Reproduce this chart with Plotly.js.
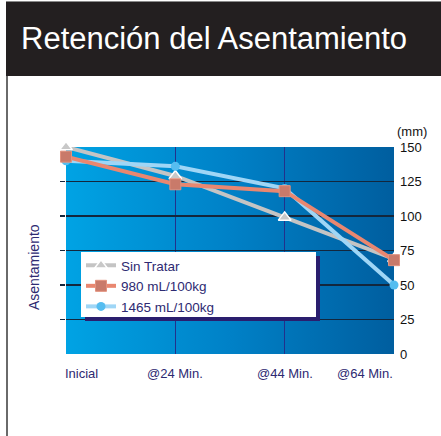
<!DOCTYPE html>
<html>
<head>
<meta charset="utf-8">
<script src="https://cdn.plot.ly/plotly-3.0.1.min.js"></script>
<style>html,body{margin:0;padding:0;background:#fff;}#chart{width:441px;height:436px;}</style>
</head>
<body>
<div id="chart"></div>
<script>
// ---- data ----
const categories = ["Inicial", "@24 Min.", "@44 Min.", "@64 Min."];
const catPos = [0, 1, 2, 3];
const sinTratar = [150, 129, 99, 69];
const dosis980 = [143, 123, 118, 68];
const dosis1465 = [140, 136, 120, 50];
const seriesNames = ["Sin Tratar", "980 mL/100kg", "1465 mL/100kg"];
const yTicks = [0, 25, 50, 75, 100, 125, 150];
const gridTicks = [25, 50, 75, 100, 125];

// ---- geometry (pixels) ----
const W = 441, H = 436;
const L = 66, R = 394, T = 147, B = 354;
const pw = R - L, ph = B - T;
const px = x => (x - L) / pw;
const py = y => (B - y) / ph;

// gradient background image
const cv = document.createElement('canvas');
cv.width = pw; cv.height = ph;
const ctx = cv.getContext('2d');
const g = ctx.createLinearGradient(0, 0, pw, 0);
g.addColorStop(0, '#00a3e4');
g.addColorStop(0.5, '#0081c7');
g.addColorStop(1, '#005e9f');
ctx.fillStyle = g;
ctx.fillRect(0, 0, pw, ph);
const bgURL = cv.toDataURL('image/png');

const navy = '#2e2a72';
const font = 'Arial, Liberation Sans, sans-serif';

const traces = [
  {
    x: catPos, y: sinTratar, name: seriesNames[0], type: 'scatter', mode: 'lines+markers',
    line: {color: '#c4c4c4', width: 4},
    marker: {symbol: 'triangle-up', size: 11, color: '#c8c8c8', line: {color: '#ffffff', width: 1.5}},
    cliponaxis: false, legendrank: 1
  },
  {
    x: catPos, y: dosis1465, name: seriesNames[2], type: 'scatter', mode: 'lines+markers',
    line: {color: '#9fd6f6', width: 4},
    marker: {symbol: 'circle', size: 9, color: '#55bdf0'},
    cliponaxis: false, legendrank: 3
  },
  {
    x: catPos, y: dosis980, name: seriesNames[1], type: 'scatter', mode: 'lines+markers',
    line: {color: '#e98770', width: 4},
    marker: {symbol: 'square', size: 11, color: '#c97a6a', line: {color: '#e3927e', width: 1}},
    cliponaxis: false, legendrank: 2
  },
  // carrier for the right-hand value axis (no visible mark)
  {
    x: [catPos[0]], y: [null], yaxis: 'y2', type: 'scatter', mode: 'lines',
    showlegend: false, hoverinfo: 'skip'
  }
];

const annotations = categories.map((c, i) => ({
  x: catPos[i], xref: 'x', y: py(373), yref: 'paper',
  text: c, showarrow: false,
  xanchor: i === 0 ? 'left' : (i === categories.length - 1 ? 'right' : 'center'),
  yanchor: 'middle',
  xshift: i === 0 ? -3 : (i === categories.length - 1 ? 1 : 0),
  font: {family: font, size: 13, color: navy}
}));
annotations.push({
  x: px(412), xref: 'paper', y: py(131), yref: 'paper', text: '(mm)', showarrow: false,
  xanchor: 'center', yanchor: 'middle',
  font: {family: font, size: 13, color: '#111'}
});
annotations.push({
  x: px(34), xref: 'paper', y: py(267), yref: 'paper', text: 'Asentamiento', showarrow: false,
  textangle: -90, xanchor: 'center', yanchor: 'middle',
  font: {family: font, size: 14, color: navy}
});

const layout = {
  width: W, height: H,
  margin: {l: L, r: W - R, t: T, b: H - B, pad: 0},
  paper_bgcolor: '#ffffff',
  plot_bgcolor: '#0080c6',
  showlegend: true,
  title: {
    text: 'Retención del Asentamiento',
    x: 21 / W, xanchor: 'left', xref: 'container',
    y: 1 - 38 / H, yanchor: 'middle', yref: 'container',
    font: {family: font, size: 31, color: '#ffffff'}
  },
  xaxis: {
    range: [0, 3], tickvals: [1, 2], showticklabels: false, ticks: '',
    showgrid: true, gridcolor: '#22318c', gridwidth: 1.2,
    zeroline: false, showline: false
  },
  yaxis: {
    range: [0, 150], side: 'left', tickvals: gridTicks,
    ticks: 'outside', ticklen: 5, tickwidth: 1.5, tickcolor: '#13273d',
    showticklabels: false, showgrid: true, gridcolor: '#13273d', gridwidth: 1.6,
    zeroline: false, showline: false
  },
  yaxis2: {
    range: [0, 150], overlaying: 'y', side: 'right', tickvals: yTicks, ticks: '',
    showgrid: false, zeroline: false, showline: false,
    ticklabelstandoff: 5,
    tickfont: {family: font, size: 13, color: '#111'}
  },
  legend: {
    x: px(81), y: py(250), xanchor: 'left', yanchor: 'top',
    bgcolor: 'rgba(0,0,0,0)', borderwidth: 0,
    font: {family: font, size: 13.5, color: navy},
    tracegroupgap: 0
  },
  images: [{
    source: bgURL, xref: 'paper', yref: 'paper', x: 0, y: 1, sizex: 1, sizey: 1,
    sizing: 'stretch', layer: 'below', xanchor: 'left', yanchor: 'top'
  }],
  shapes: [
    {type: 'rect', xref: 'paper', yref: 'paper', x0: px(6), x1: px(442), y0: py(76), y1: py(2),
     fillcolor: '#231f20', line: {width: 0}, layer: 'above'},
    {type: 'line', xref: 'paper', yref: 'paper', x0: px(6), x1: px(442), y0: py(1.5), y1: py(1.5),
     line: {color: '#8a8a8a', width: 1}, layer: 'above'},
    {type: 'line', xref: 'paper', yref: 'paper', x0: px(7), x1: px(7), y0: py(437), y1: py(76),
     line: {color: '#6a6a6a', width: 2}, layer: 'above'},
    {type: 'rect', xref: 'paper', yref: 'paper', x0: px(85), x1: px(320), y0: py(321), y1: py(256),
     fillcolor: '#2a1e6e', line: {width: 0}, layer: 'above'},
    {type: 'rect', xref: 'paper', yref: 'paper', x0: px(81), x1: px(316), y0: py(317), y1: py(252),
     fillcolor: '#ffffff', line: {width: 0}, layer: 'above'}
  ],
  annotations: annotations
};

Plotly.newPlot('chart', traces, layout, {displayModeBar: false, staticPlot: true});
</script>
</body>
</html>
